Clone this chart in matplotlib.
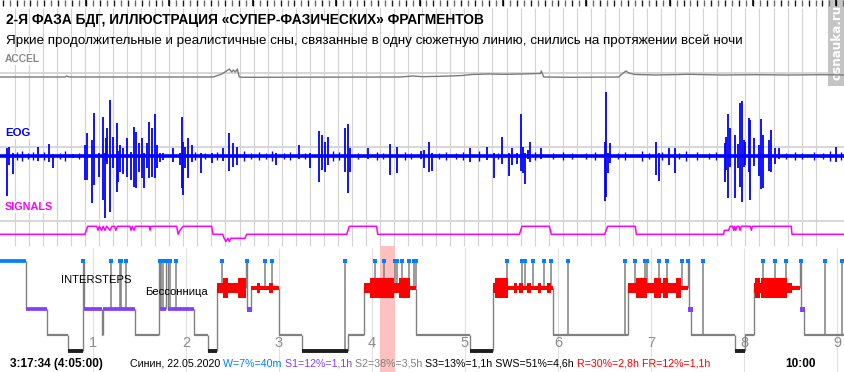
import numpy as np
import matplotlib
matplotlib.use("Agg")
import matplotlib.pyplot as plt
from matplotlib.patches import Rectangle

FIG_W, FIG_H = 845, 372
HOUR_PX = 93.0
T_MAX = FIG_W / HOUR_PX

# ---------------- data (time in hours from start) ----------------
# accelerometer, level above rest
acc_t = [0.0, 0.70, 0.717, 0.74, 2.294, 2.384, 2.419, 2.466, 2.491, 2.509, 2.530, 2.552, 2.573,
         2.616, 4.30, 4.444, 4.538, 4.753, 4.968, 5.075, 5.254, 5.434, 5.613, 5.792, 5.812,
         5.821, 5.846, 6.151, 6.652, 6.688, 6.731, 6.760, 6.831, 7.047, 7.405, 7.763, 8.122,
         8.480, 8.839, 9.09]
acc_v = [0, 0, 1, 0, 0, 3, 5, 8, 5, 7, 5, 8, 0,
         -0.3, 0, 1, 0.3, 0.7, 1.5, 2.5, 3, 2.7, 3, 3.5, 3.5,
         6, 0, -0.3, 0, 3, 6, 4, 2.5, 2, 2.7, 2, 2.3,
         2, 2.3, 2]

# EOG deflections: time, up, down
eog_t = [0.072, 0.100, 0.136, 0.412, 0.530, 0.573, 0.789, 0.914, 0.939, 0.986, 1.014, 1.068,
         1.104, 1.129, 1.140, 1.154, 1.183, 1.219, 1.254, 1.272, 1.290, 1.326, 1.362, 1.405,
         1.444, 1.462, 1.498, 1.523, 1.552, 1.577, 1.606, 1.631, 1.667, 1.685, 1.720, 1.756,
         1.857, 1.935, 1.953, 1.971, 1.989, 2.025, 2.061, 2.161, 2.280, 2.394, 2.466, 2.509,
         2.545, 2.968, 3.219, 3.333, 3.434, 3.459, 3.495, 3.530, 3.710, 3.746, 3.763, 3.961,
         4.194, 4.265, 4.523, 4.556, 4.616, 4.645, 5.057, 5.237, 5.308, 5.398, 5.477, 5.505,
         5.559, 5.606, 5.624, 5.649, 5.677, 5.702, 5.821, 6.502, 6.520, 6.538, 6.563, 7.057,
         7.082, 7.190, 7.254, 7.792, 7.810, 7.828, 7.853, 7.907, 7.935, 7.961, 7.978, 7.996,
         8.014, 8.050, 8.068, 8.104, 8.158, 8.186, 8.201, 8.265, 8.294, 8.337, 8.373, 8.993]
eog_up = [7.3, 9, 3, 9, 11.3, 2, 2, 10.7, 22.3, 15.7, 42.3, 3,
          39, 3, 17.3, 27.3, 55.7, 19, 32.3, 5, 10.7, 7.3, 17.3, 4,
          29, 24, 12.3, 17.3, 3, 12.3, 33.3, 27.3, 41.3, 10.7, 3, 2.3,
          7.3, 3, 39, 14, 9, 17.3, 10.7, 3, 3, 7.3, 22.3, 12.3,
          9, 3, 10.7, 3, 24.7, 20.7, 14, 19, 27.3, 31.3, 7.3, 8,
          11.3, 9, 4.7, 5.7, 13.3, 3, 8, 9, 3, 19, 3, 7.3,
          3, 41.3, 9, 3, 5.7, 14, 7.3, 14, 63.3, 3, 12.3, 13.3,
          3, 7.3, 8, 12.3, 19, 41.3, 27.3, 20.7, 11.3, 52.3, 54.7, 15.7,
          14, 38, 35.7, 17.3, 10.7, 36.7, 20.7, 15.7, 25.7, 7.3, 7.3, 9]
eog_dn = [40, 9, 18.7, 5.3, 6, 12, 2.7, 24.3, 24.3, 47.7, 29.3, 21,
          44.3, 62, 5, 8, 56, 12.7, 36, 26, 16, 18.7, 21, 24.3,
          31, 32.7, 16, 22.7, 32.7, 12.7, 22.7, 21, 22.7, 12, 6.7, 4.3,
          6, 9.3, 32.7, 39.3, 12.7, 22.7, 6.7, 17.7, 7.7, 5.3, 15.3, 11,
          9.3, 9.3, 3, 12.7, 26, 14.3, 16, 9.3, 16, 37.7, 16, 3,
          19.3, 17.7, 3, 12.7, 16, 15.3, 6, 4.3, 22, 8.7, 20, 9.3,
          8.7, 15.3, 17.7, 28.7, 3, 6.7, 3, 45.3, 41, 17.7, 7.7, 19.3,
          25.3, 9.3, 17.7, 26, 14.3, 42.7, 11, 42, 12.7, 31, 46.7, 11,
          9.3, 16, 44.3, 10, 20, 33.3, 32.7, 15.3, 16.7, 8.7, 3, 6]

# small EOG ripple in the quiet stretches: time, amplitude either side
ripple_t = [0.18, 0.24, 0.30, 0.36, 0.47, 0.64, 0.70, 0.85, 2.10, 2.20, 2.33, 2.62, 2.70,
            2.78, 2.86, 2.92, 3.05, 3.12, 3.28, 3.58, 3.64, 3.85, 4.05, 4.12, 4.35, 4.42,
            4.72, 4.80, 4.90, 4.98, 5.15, 5.35, 5.75, 5.95, 6.05, 6.15, 6.30, 6.40, 6.65,
            6.72, 6.90, 6.98, 7.12, 7.30, 7.38, 7.50, 7.62, 7.70, 8.45, 8.55, 8.62, 8.75,
            8.85, 8.93, 9.04]
ripple_a = [4, 5, 3, 4, 4, 3, 5, 3, 4, 3, 4, 5, 3, 4, 3, 5, 3, 4, 3, 5, 4, 3, 4, 3, 4, 3,
            3, 4, 3, 4, 5, 3, 4, 3, 4, 3, 3, 4, 3, 4, 5, 3, 4, 3, 5, 4, 3, 4, 3, 4, 3, 4,
            3, 5, 4]

# SIGNALS trace
sig_t = [0.0, 0.914, 0.943, 1.040, 1.054, 1.068, 1.093, 1.108, 1.129, 1.147, 1.183, 1.204,
         1.233, 1.244, 1.262, 1.398, 1.409, 1.423, 1.441, 1.455, 1.606, 1.613, 1.623, 1.900,
         1.915, 1.935, 1.970, 2.276, 2.290, 2.394, 2.410, 2.430, 2.450, 2.466, 2.480, 2.634,
         2.652, 3.728, 3.756, 4.050, 4.061, 5.585, 5.613, 5.907, 5.928, 6.502, 6.534, 6.831,
         6.842, 7.781, 7.789, 7.835, 7.850, 7.878, 7.889, 7.900, 7.910, 7.925, 7.946, 7.958,
         7.970, 8.068, 8.080, 8.090, 8.508, 8.516, 9.09]
sig_v = [0, 0, 1, 1, 0.5, 1, 0.5, 1, 0.5, 1, 0.5, 1,
         1, 0.5, 1, 1, 0.5, 1, 0.5, 1, 1, 0.5, 1, 1,
         0, 0.5, 1, 1, 0, 0, -0.5, -0.9, -0.5, -0.9, -0.5, -0.5,
         0, 0, 1, 1, 0, 0, 1, 1, 0, 0, 1, 1,
         0, 0, 0.5, 0.5, 1, 1, 0.5, 1, 0.5, 1, 1, 0.5,
         1, 1, 0.5, 1, 1, 0, 0]

# hypnogram: stage from hyp_t[i] to hyp_t[i+1]
hyp_t = [0.0, 0.280, 0.505, 0.731, 0.892, 0.903, 1.100, 1.108, 1.452, 1.713, 1.720, 1.782,
         1.810, 2.090, 2.237, 2.335, 2.650, 2.655, 2.702, 2.995, 3.247, 3.737, 3.917, 4.478,
         5.054, 5.305, 5.950, 6.756, 7.398, 7.405, 7.430, 7.903, 8.011, 8.105, 8.605, 8.613,
         8.645, T_MAX]
hyp_stage = ["W", "S1", "S2", "S3", "W", "S1", "S2", "S1", "S2", "W", "S1", "W",
             "S1", "S2", "S3", "R", "W", "S1", "R", "S2", "S3", "S2", "R", "S2",
             "S3", "R", "S2", "R", "W", "S1", "S2", "S3", "S2", "R", "W", "S1",
             "S2"]

# brief awakenings ("intersteps")
aw_t = [1.197, 1.285, 1.305, 1.352, 1.735, 1.756, 1.828, 1.892, 2.390, 2.853, 2.928, 3.713,
        4.035, 4.129, 4.251, 4.269, 4.326, 4.395, 4.452, 4.472, 5.448, 5.610, 5.645, 5.728,
        5.849, 5.928, 6.111, 6.724, 6.831, 6.939, 6.960, 7.089, 7.169, 7.330, 7.562, 8.208,
        8.337, 8.452, 8.874, 9.057]
aw_stage = ["S1", "S1", "S1", "S1", "S1", "S1", "S1", "S1", "R", "R", "R", "S3",
            "R", "R", "R", "R", "R", "R", "R", "R", "R", "R", "R", "R",
            "R", "R", "S2", "S2", "R", "R", "R", "R", "R", "R", "S2", "R",
            "R", "R", "S2", "S2"]

# REM intensity: 0 thin, 1 medium, 2 thick
rem_t0 = [2.335, 2.398, 2.455, 2.559, 2.702, 2.760, 2.796, 2.889, 2.939,
          3.917, 3.978, 4.237, 4.290, 4.409,
          5.305, 5.323, 5.459, 5.527, 5.556, 5.584, 5.620, 5.663, 5.706, 5.785, 5.814, 5.885, 5.922,
          6.756, 6.839, 6.954, 7.032, 7.104, 7.132, 7.180, 7.269, 7.319,
          8.105, 8.115, 8.172, 8.186, 8.459, 8.516]
rem_t1 = [2.398, 2.455, 2.559, 2.650, 2.760, 2.796, 2.889, 2.939, 2.995,
          3.978, 4.237, 4.290, 4.409, 4.478,
          5.323, 5.459, 5.527, 5.556, 5.584, 5.620, 5.663, 5.706, 5.785, 5.814, 5.885, 5.922, 5.950,
          6.839, 6.954, 7.032, 7.104, 7.132, 7.180, 7.269, 7.319, 7.398,
          8.115, 8.172, 8.186, 8.459, 8.516, 8.605]
rem_k = [1, 2, 1, 2, 0, 1, 0, 1, 0,
         1, 2, 1, 2, 0,
         1, 2, 0, 1, 0, 1, 0, 1, 0, 1, 0, 1, 0,
         1, 2, 1, 2, 1, 2, 1, 2, 0,
         1, 2, 1, 2, 1, 0]

hour_labels = ["1", "2", "3", "4", "5", "6", "7", "8", "9"]
highlight = (4.086, 4.247)

title = "2-Я ФАЗА БДГ, ИЛЛЮСТРАЦИЯ «СУПЕР-ФАЗИЧЕСКИХ» ФРАГМЕНТОВ"
subtitle = ("Яркие продолжительные и реалистичные сны, связанные в одну сюжетную линию, "
            "снились на протяжении всей ночи")
stats_txt = ["Синин, 22.05.2020 ", "W=7%=40m ", "S1=12%=1,1h ", "S2=38%=3,5h ",
             "S3=13%=1,1h SWS=51%=4,6h ", "R=30%=2,8h FR=12%=1,1h"]
stats_col = ["#000000", "#0080ff", "#8040ff", "#808080", "#000000", "#ff0000"]

# ---------------- styles ----------------
C_W, C_S1, C_S2, C_S3, C_R = "#0080ff", "#8040ff", "#808080", "#1e1e1e", "#ff0000"
stage_y = {"W": 14.7, "R": 41.7, "S1": 63.0, "S2": 89.0, "S3": 104.7}
stage_style = {"W": (C_W, 2.7), "S1": (C_S1, 2.7), "S2": (C_S2, 1.6), "S3": (C_S3, 2.8)}
rem_half = [2.2, 5.0, 10.0]
GRID = "#d2d2d2"

plt.rcParams["font.family"] = ["Liberation Sans", "DejaVu Sans"]
fig = plt.figure(figsize=(FIG_W / 100, FIG_H / 100), dpi=100)


def fy(ypx):
    return 1 - ypx / FIG_H


def panel(y0, y1, ylim):
    ax = fig.add_axes([0, fy(y1), 1, (y1 - y0) / FIG_H])
    ax.set_xlim(0, T_MAX)
    ax.set_ylim(*ylim)
    ax.axis("off")
    return ax


def ftext(xpx, ypx, s, **kw):
    return fig.text(xpx / FIG_W, fy(ypx), s, **kw)


# background: grid, reference lines
bg = panel(0, FIG_H, (FIG_H, 0))
grid_t = 0.158 + 0.1511 * np.arange(58)
bg.vlines(grid_t, 8, 246, color=GRID, lw=0.8, zorder=0)
bg.hlines([72.7, 147.3, 221.0], 0, T_MAX, color="#d4d4d4", lw=1.3, zorder=0)
bg.add_patch(Rectangle((828.3 / HOUR_PX, 0), 17 / HOUR_PX, 86, color="#c4c4c4", lw=0, zorder=5))
bg.text(837.5 / HOUR_PX, 42, "osnauka.ru", rotation=90, ha="center", va="center",
        color="white", fontsize=9.5, fontweight="bold", family="DejaVu Sans",
        fontstretch="condensed", zorder=6)

# top ruler ticks drawn as tick markers
ruler = 0.029 + 0.0747 * np.arange(122)
bg.plot(ruler[::2], np.full(len(ruler[::2]), 2.5), ls="none", marker="|", ms=3.8, mew=1.0,
        color="#1a1a1a", clip_on=False, zorder=6)
bg.plot(ruler[1::2], np.full(len(ruler[1::2]), 2.5), ls="none", marker="|", ms=3.8, mew=1.0,
        color="#6a6a6a", clip_on=False, zorder=6)
bg.plot(ruler[12::12], np.full(len(ruler[12::12]), 3.3), ls="none", marker="|", ms=5.0,
        mew=1.1, color="#000000", clip_on=False, zorder=6)

# title
ftext(6, 20, title, fontsize=9.9, fontweight="bold", va="center")
ftext(6, 41, subtitle, fontsize=9.7, va="center")

label_box = dict(facecolor="white", edgecolor="none", pad=1)
ftext(5, 59, "ACCEL", fontsize=7.4, fontweight="bold", color="#8a8a8a", va="center",
      bbox=label_box)
ftext(5, 133, "EOG", fontsize=8.2, fontweight="bold", color="#0000ff", va="center",
      bbox=label_box)
ftext(5, 207, "SIGNALS", fontsize=7.8, fontweight="bold", color="#ff00ff", va="center",
      bbox=label_box)

# ACCEL
ax_acc = panel(50, 85, (-8, 27))
ax_acc.plot(acc_t, acc_v, color="#7a7a7a", lw=1)

# EOG
ax_eog = panel(88, 224, (-68.3, 67.7))
ax_eog.axhline(0, color="#0000ff", lw=2.6)
ax_eog.vlines(ripple_t, -np.array(ripple_a), ripple_a, color="#0000ff", lw=1.0)
ax_eog.vlines(eog_t, -np.array(eog_dn), eog_up, color="#0000ff", lw=1.3)

# SIGNALS
ax_sig = panel(214, 246, (-1.4625, 2.5375))
ax_sig.plot(sig_t, sig_v, color="#ff00ff", lw=1.1)

# hypnogram
hy = panel(246, FIG_H, (126, 0))
hy.axvspan(*highlight, color="#ffc0c0", lw=0, zorder=0)
hy.vlines(np.arange(1, 10), 2, 126, color="#e0e0e0", lw=0.8, zorder=0.5)
for i, lab in enumerate(hour_labels):
    hy.text(i + 1, 97, lab, ha="center", va="center", fontsize=10.5, color="#8c8c8c", zorder=1)

# connectors between stages
for i in range(1, len(hyp_stage)):
    hy.vlines(hyp_t[i], stage_y[hyp_stage[i - 1]], stage_y[hyp_stage[i]], color="#808080",
              lw=1, zorder=2)
# awakenings
hy.vlines(aw_t, [stage_y[s] for s in aw_stage], stage_y["W"], color="#808080", lw=1.1, zorder=2)
hy.plot(aw_t, [stage_y["W"]] * len(aw_t), "s", color=C_W, ms=3.2, mew=0, zorder=4)

# stage levels
for i, st in enumerate(hyp_stage):
    t0, t1 = hyp_t[i], hyp_t[i + 1]
    if st == "R":
        continue
    col, lw = stage_style[st]
    hy.hlines(stage_y[st], t0, t1, color=col, lw=lw, zorder=3)
    if st == "W" and t1 - t0 < 0.05:
        hy.plot((t0 + t1) / 2, stage_y[st], "s", color=col, ms=3.2, mew=0, zorder=4)
    if st == "S1" and t1 - t0 < 0.05:
        hy.plot((t0 + t1) / 2, stage_y[st], "s", color=col, ms=3.6, mew=0, zorder=4)

# REM with intensity
for t0, t1, k in zip(rem_t0, rem_t1, rem_k):
    h = rem_half[k]
    hy.bar(t0, 2 * h, width=t1 - t0, bottom=stage_y["R"] - h, align="edge", color=C_R,
           lw=0, zorder=3)

hy.text(1.032, 34, "INTERSTEPS", ha="center", va="center", fontsize=8.1, zorder=5)
hy.text(1.892, 46.3, "Бессонница", ha="center", va="center", fontsize=8.1, zorder=5)

# bottom line
ftext(10, 364, "3:17:34 (4:05:00)", fontsize=8.5, fontweight="bold", va="center")
prev = ftext(130, 364, stats_txt[0], fontsize=7.65, color=stats_col[0], va="center")
for s, c in zip(stats_txt[1:], stats_col[1:]):
    prev = hy.annotate(s, xy=(1, 0), xycoords=prev, va="bottom", ha="left", fontsize=7.65,
                       color=c, annotation_clip=False)
ftext(785, 364, "10:00", fontsize=8.5, fontweight="bold", va="center")

fig.savefig("out.png", dpi=100)
